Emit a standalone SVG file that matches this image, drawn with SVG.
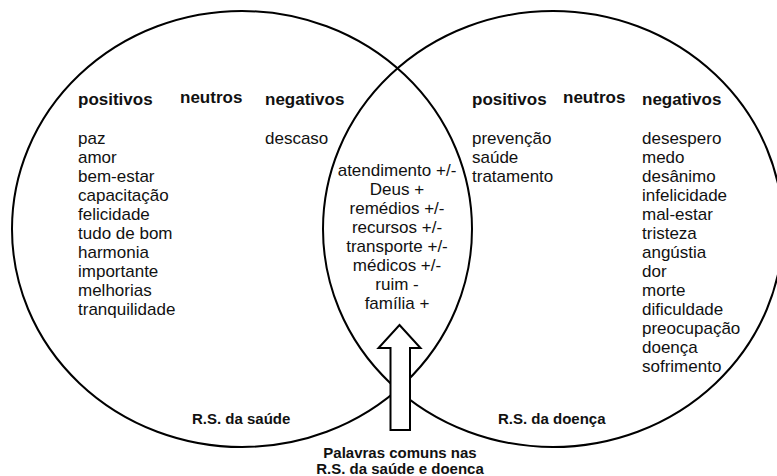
<svg xmlns="http://www.w3.org/2000/svg" width="777" height="476" viewBox="0 0 777 476">
<style>
.c{fill:none;stroke:#000;stroke-width:2}
text{font-family:"Liberation Sans",Arial,sans-serif;fill:#111}
.h{font-size:17px;font-weight:bold}
.w{font-size:17px}
.m{font-size:17px;text-anchor:middle}
.l{font-size:15px;font-weight:bold}
.b{font-size:15px;font-weight:bold;text-anchor:middle}
</style>
<rect width="777" height="476" fill="#fff"/>
<g id="saude">
<ellipse class="c" cx="242" cy="229" rx="230" ry="218"/>
<text class="h" x="78" y="105">positivos</text>
<text class="h" x="180" y="103">neutros</text>
<text class="h" x="265" y="105">negativos</text>
<text class="w" x="78" y="144">paz<tspan x="78" dy="19">amor</tspan><tspan x="78" dy="19">bem-estar</tspan><tspan x="78" dy="19">capacitação</tspan><tspan x="78" dy="19">felicidade</tspan><tspan x="78" dy="19">tudo de bom</tspan><tspan x="78" dy="19">harmonia</tspan><tspan x="78" dy="19">importante</tspan><tspan x="78" dy="19">melhorias</tspan><tspan x="78" dy="19">tranquilidade</tspan></text>
<text class="w" x="265" y="144">descaso</text>
<text class="l" x="192" y="424">R.S. da saúde</text>
</g>
<g id="doenca">
<ellipse class="c" cx="553" cy="229" rx="230" ry="218"/>
<text class="h" x="472" y="105">positivos</text>
<text class="h" x="563" y="103">neutros</text>
<text class="h" x="642" y="105">negativos</text>
<text class="w" x="472" y="144">prevenção<tspan x="472" dy="19">saúde</tspan><tspan x="472" dy="19">tratamento</tspan></text>
<text class="w" x="642" y="144">desespero<tspan x="642" dy="19">medo</tspan><tspan x="642" dy="19">desânimo</tspan><tspan x="642" dy="19">infelicidade</tspan><tspan x="642" dy="19">mal-estar</tspan><tspan x="642" dy="19">tristeza</tspan><tspan x="642" dy="19">angústia</tspan><tspan x="642" dy="19">dor</tspan><tspan x="642" dy="19">morte</tspan><tspan x="642" dy="19">dificuldade</tspan><tspan x="642" dy="19">preocupação</tspan><tspan x="642" dy="19">doença</tspan><tspan x="642" dy="19">sofrimento</tspan></text>
<text class="l" x="498" y="424">R.S. da doença</text>
</g>
<g id="comuns">
<text class="m" x="397" y="176">atendimento +/-<tspan x="397" dy="19">Deus +</tspan><tspan x="397" dy="19">remédios +/-</tspan><tspan x="397" dy="19">recursos +/-</tspan><tspan x="397" dy="19">transporte +/-</tspan><tspan x="397" dy="19">médicos +/-</tspan><tspan x="397" dy="19">ruim -</tspan><tspan x="397" dy="19">família +</tspan></text>
</g>
<g id="connectors">
<polygon points="399.5,325 420.5,348 410,348 410,430 390.5,430 390.5,348 378.5,348" fill="#fff" stroke="#000" stroke-width="2"/>
</g>
<g id="legenda">
<text class="b" x="400" y="458">Palavras comuns nas<tspan x="400" dy="15.5">R.S. da saúde e doenca</tspan></text>
</g>
</svg>
